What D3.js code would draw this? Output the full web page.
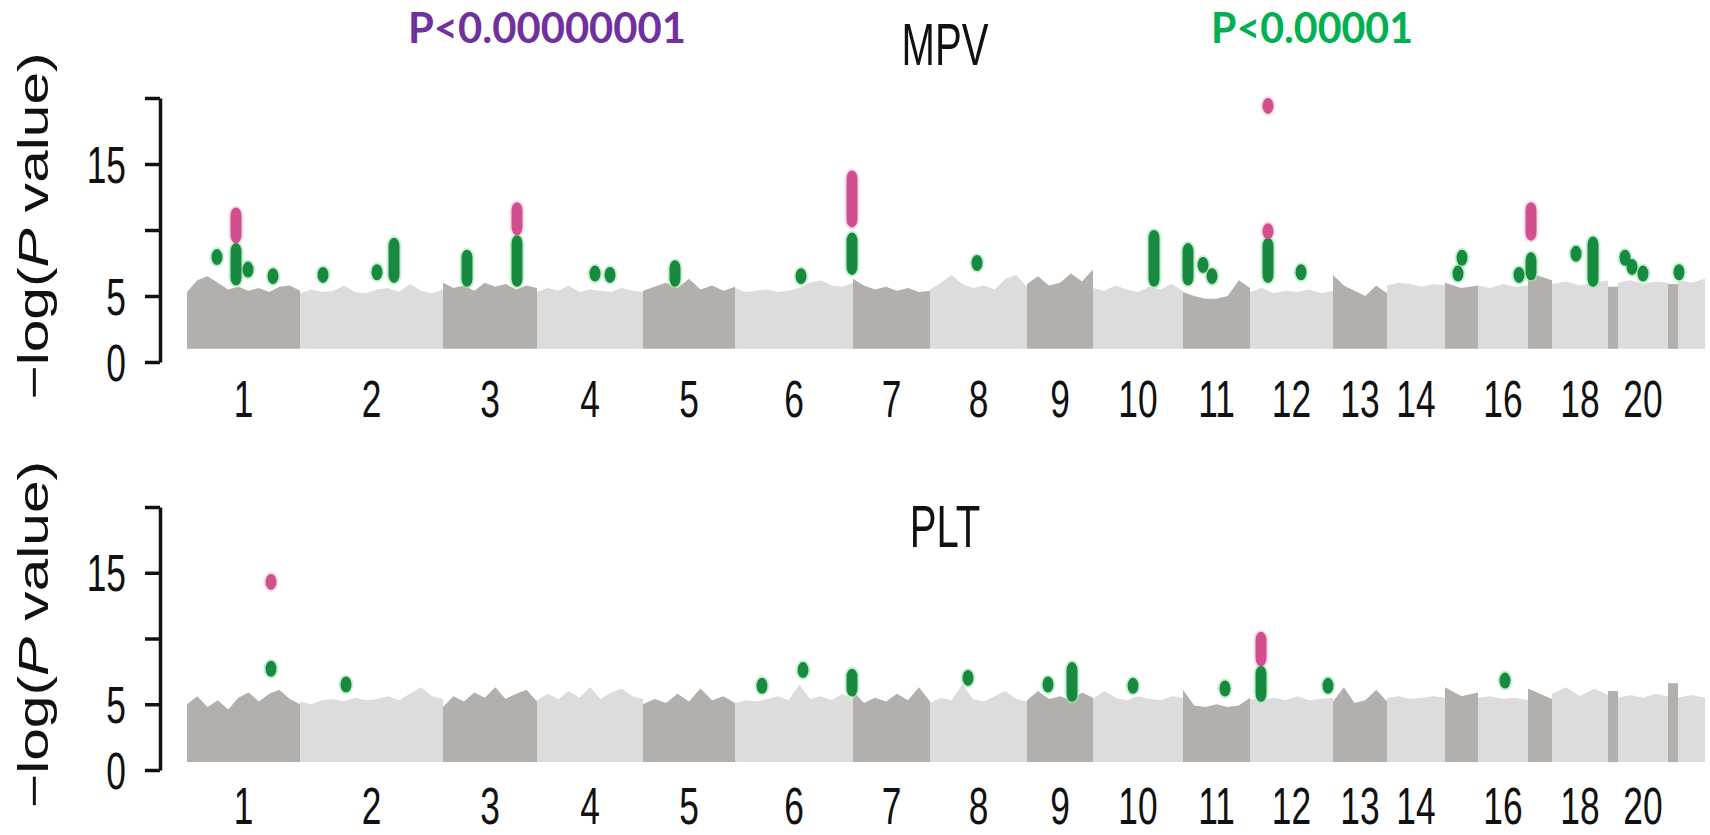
<!DOCTYPE html>
<html>
<head>
<meta charset="utf-8">
<script src="https://cdn.jsdelivr.net/npm/d3@7"></script>
<style>
  html, body { margin: 0; padding: 0; background: #fff; }
  svg { display: block; }
</style>
</head>
<body>
<div id="chart"></div>
<script>
// chromosomes and their relative widths along the x axis (as drawn in the figure)
const chromosomes = ['1', '2', '3', '4', '5', '6', '7', '8', '9', '10', '11', '12', '13', '14', '15', '16', '17', '18', '19', '20', '21', '22']
const chrSpan = [113, 143, 94, 106, 92, 118, 77, 97, 66, 90, 67, 83, 54, 58, 33, 50, 24, 56, 10, 50, 10, 27]
const chrTickLabels = ['1', '2', '3', '4', '5', '6', '7', '8', '9', '10', '11', '12', '13', '14', '', '16', '', '18', '', '20', '', '']

const yTicks = [0, 5, 10, 15, 20]
const yTickLabels = ['0', '5', '', '15', '']

// -log(P) envelope of the non-significant SNPs, per chromosome (left to right)
const mpvSkyline = [
  [5.3, 6.2, 6.5, 6.0, 5.5, 5.7, 5.4, 5.6, 5.3, 5.7, 5.8, 5.4],
  [5.2, 5.5, 5.3, 5.4, 5.8, 5.3, 5.2, 5.5, 5.6, 5.3, 5.9, 5.4, 5.2, 5.5],
  [6.0, 5.6, 5.8, 5.4, 6.0, 5.7, 5.9, 5.5, 5.8, 5.6],
  [5.3, 5.6, 5.4, 5.8, 5.3, 5.5, 5.4, 5.3, 5.6, 5.4, 5.3],
  [5.4, 5.7, 6.0, 5.6, 6.3, 5.5, 5.8, 5.4, 5.7],
  [5.6, 5.3, 5.4, 5.5, 5.3, 5.4, 5.6, 6.0, 6.2, 5.8, 5.7, 6.0],
  [6.3, 5.8, 5.5, 5.7, 5.4, 5.6, 5.3, 5.4],
  [5.5, 6.0, 6.6, 5.9, 5.6, 5.8, 5.5, 6.3, 6.6, 5.7],
  [5.9, 6.5, 5.8, 6.0, 6.7, 6.1, 7.0],
  [5.6, 5.4, 5.8, 5.5, 5.3, 5.7, 5.5, 5.9, 5.4],
  [5.3, 5.0, 4.8, 4.8, 5.0, 6.2, 5.6],
  [5.3, 5.6, 5.2, 5.4, 5.3, 5.5, 5.2, 5.4],
  [6.6, 5.8, 5.4, 5.0, 5.8, 5.2],
  [5.8, 6.0, 5.9, 5.7, 5.9, 5.8],
  [6.0, 5.6, 5.8],
  [5.8, 5.6, 5.9, 5.7, 5.8],
  [6.8, 6.2],
  [5.9, 6.1, 5.8, 6.0, 6.2],
  [5.7],
  [6.0, 6.2, 5.9, 6.1, 6.0],
  [5.9],
  [6.2, 6.0, 6.3]
]

const pltSkyline = [
  [5.0, 5.6, 4.8, 5.3, 4.6, 5.5, 5.9, 5.2, 5.8, 6.1, 5.4, 5.0],
  [5.2, 5.0, 5.3, 5.4, 5.2, 5.5, 5.3, 5.4, 5.6, 5.3, 5.8, 6.3, 5.6, 5.4],
  [4.8, 5.6, 5.2, 5.9, 5.5, 6.3, 5.4, 5.8, 6.1, 5.2],
  [5.3, 5.8, 5.4, 6.0, 5.5, 6.3, 5.4, 5.9, 6.2, 5.6, 5.4],
  [5.0, 5.4, 5.1, 5.8, 5.2, 6.2, 5.3, 5.6, 5.1],
  [5.1, 5.3, 5.2, 5.4, 5.6, 5.3, 6.5, 5.4, 5.6, 5.3, 5.8, 5.4],
  [6.0, 5.1, 5.5, 5.2, 5.8, 5.3, 6.3, 5.2],
  [5.1, 5.5, 5.3, 6.5, 5.4, 5.2, 5.6, 6.0, 5.4, 5.2],
  [5.3, 6.0, 5.4, 5.6, 5.3, 5.9, 5.5],
  [5.4, 6.0, 5.5, 5.3, 5.6, 5.4, 5.3, 5.6, 5.5],
  [6.1, 4.9, 4.8, 5.0, 4.8, 4.9, 5.5],
  [5.4, 5.3, 5.5, 5.3, 5.6, 5.3, 5.4, 5.5],
  [5.2, 6.3, 5.1, 5.3, 6.1, 5.2],
  [5.5, 5.6, 5.4, 5.5, 5.6, 5.5],
  [6.3, 5.6, 5.9],
  [5.5, 5.6, 5.4, 5.5, 5.3],
  [6.2, 5.4],
  [5.8, 6.3, 5.6, 6.2, 5.7],
  [6.0],
  [5.5, 5.7, 5.5, 5.8, 5.6],
  [6.6],
  [5.5, 5.7, 5.5]
]

// significant loci: [chromosome, position in chromosome, lowest -log(P), highest -log(P), class]
const mpvHits = [
  ['1', 30, 7.95, 7.95, 'suggestive'],
  ['1', 49, 6.4, 8.4, 'suggestive'],
  ['1', 49, 9.6, 11.1, 'genomewide'],
  ['1', 61, 7.0, 7.0, 'suggestive'],
  ['1', 86, 6.5, 6.5, 'suggestive'],
  ['2', 23, 6.6, 6.6, 'suggestive'],
  ['2', 77, 6.8, 6.8, 'suggestive'],
  ['2', 94, 6.6, 8.8, 'suggestive'],
  ['3', 24, 6.3, 7.9, 'suggestive'],
  ['3', 74, 6.3, 9.0, 'suggestive'],
  ['3', 74, 10.2, 11.5, 'genomewide'],
  ['4', 58, 6.7, 6.7, 'suggestive'],
  ['4', 73, 6.6, 6.6, 'suggestive'],
  ['5', 32, 6.3, 7.1, 'suggestive'],
  ['6', 66, 6.5, 6.5, 'suggestive'],
  ['6', 117, 7.2, 9.2, 'suggestive'],
  ['6', 117, 10.8, 13.9, 'genomewide'],
  ['8', 47, 7.5, 7.5, 'suggestive'],
  ['10', 61, 6.3, 9.4, 'suggestive'],
  ['11', 5, 6.4, 8.4, 'suggestive'],
  ['11', 20, 7.35, 7.35, 'suggestive'],
  ['11', 29, 6.5, 6.5, 'suggestive'],
  ['12', 18, 6.6, 8.8, 'suggestive'],
  ['12', 18, 9.9, 9.9, 'genomewide'],
  ['12', 18, 19.4, 19.4, 'genomewide'],
  ['12', 51, 6.8, 6.8, 'suggestive'],
  ['15', 13, 6.7, 6.7, 'suggestive'],
  ['15', 17, 7.9, 7.9, 'suggestive'],
  ['16', 41, 6.6, 6.6, 'suggestive'],
  ['17', 3, 6.8, 7.7, 'suggestive'],
  ['17', 3, 9.8, 11.5, 'genomewide'],
  ['18', 24, 8.2, 8.2, 'suggestive'],
  ['18', 41, 6.3, 8.9, 'suggestive'],
  ['20', 7, 7.9, 7.9, 'suggestive'],
  ['20', 14, 7.2, 7.2, 'suggestive'],
  ['20', 25, 6.7, 6.7, 'suggestive'],
  ['22', 1, 6.8, 6.8, 'suggestive']
]

const pltHits = [
  ['1', 84, 14.3, 14.3, 'genomewide'],
  ['1', 84, 7.7, 7.7, 'suggestive'],
  ['2', 46, 6.5, 6.5, 'suggestive'],
  ['6', 27, 6.4, 6.4, 'suggestive'],
  ['6', 68, 7.6, 7.6, 'suggestive'],
  ['6', 117, 6.2, 7.1, 'suggestive'],
  ['8', 38, 7.0, 7.0, 'suggestive'],
  ['9', 21, 6.5, 6.5, 'suggestive'],
  ['9', 45, 5.8, 7.6, 'suggestive'],
  ['10', 40, 6.4, 6.4, 'suggestive'],
  ['11', 42, 6.2, 6.2, 'suggestive'],
  ['12', 11, 5.8, 7.3, 'suggestive'],
  ['12', 11, 8.5, 9.9, 'genomewide'],
  ['12', 78, 6.4, 6.4, 'suggestive'],
  ['16', 27, 6.8, 6.8, 'suggestive']
]

const draw = (id) => {
  const W = 1710
  const H = 835
  const svg = d3.select(id)
    .append('svg')
    .attr('width', W)
    .attr('height', H)
    .attr('viewBox', `0 0 ${W} ${H}`)

  const font = '"Liberation Sans", Arial, Helvetica, sans-serif'
  const squeeze = 0.68
  const colors = {
    dark: '#b3afac',
    light: '#dcdcdc',
    suggestive: '#178a40',
    genomewide: '#d24f8e',
    suggestiveHalo: '#9fe6b2',
    genomewideHalo: '#f3c3da'
  }

  // cumulative chromosome starts
  const chrStart = {}
  let acc = 0
  chromosomes.forEach((c, i) => {
    chrStart[c] = acc
    acc += chrSpan[i]
  })
  const x = d3.scaleLinear().domain([0, acc]).range([187, 1705])

  const panels = [
    { title: 'MPV', top: 98, bottom: 362, base: 1.0, labelY: 417, titleY: 65, sky: mpvSkyline, hits: mpvHits },
    { title: 'PLT', top: 507, bottom: 770, base: 0.6, labelY: 824, titleY: 547, sky: pltSkyline, hits: pltHits }
  ]

  panels.forEach((p) => {
    const y = d3.scaleLinear().domain([0, 20]).range([p.bottom, p.top])
    const g = svg.append('g')

    // chromosome envelopes
    const area = d3.area()
      .x((d) => x(d[0]))
      .y0(y(p.base))
      .y1((d) => y(d[1]))

    chromosomes.forEach((c, i) => {
      const vals = p.sky[i].length === 1 ? [p.sky[i][0], p.sky[i][0]] : p.sky[i]
      const x0 = chrStart[c]
      const step = chrSpan[i] / (vals.length - 1)
      const pts = vals.map((v, j) => [x0 + j * step, v])
      g.append('path')
        .datum(pts)
        .attr('d', area)
        .attr('fill', i % 2 === 0 ? colors.dark : colors.light)
    })

    // hits: halo then fill
    const rx = 5.5
    const ry = 8
    const hitG = g.append('g')
    const pos = (d) => x(chrStart[d[0]] + d[1])
    hitG.selectAll('.halo')
      .data(p.hits)
      .enter()
      .append('rect')
      .attr('class', 'halo')
      .attr('x', (d) => pos(d) - rx - 2)
      .attr('y', (d) => y(d[3]) - ry - 2)
      .attr('width', 2 * rx + 4)
      .attr('height', (d) => y(d[2]) - y(d[3]) + 2 * ry + 4)
      .attr('rx', rx + 2)
      .attr('ry', ry + 2)
      .attr('fill', (d) => colors[d[4] + 'Halo'])
      .attr('opacity', 0.55)
    hitG.selectAll('.hit')
      .data(p.hits)
      .enter()
      .append('rect')
      .attr('class', 'hit')
      .attr('x', (d) => pos(d) - rx)
      .attr('y', (d) => y(d[3]) - ry)
      .attr('width', 2 * rx)
      .attr('height', (d) => y(d[2]) - y(d[3]) + 2 * ry)
      .attr('rx', rx)
      .attr('ry', ry)
      .attr('fill', (d) => colors[d[4]])

    // y axis
    const yAxis = svg.append('g')
      .attr('transform', 'translate(160,0)')
      .call(d3.axisLeft(y).tickValues(yTicks).tickSize(15).tickSizeOuter(0).tickFormat(''))
    yAxis.select('.domain').attr('stroke', '#111').attr('stroke-width', 3.5)
    yAxis.selectAll('.tick line').attr('stroke', '#111').attr('stroke-width', 3.5)

    yTicks.forEach((t, i) => {
      if (!yTickLabels[i]) return
      svg.append('text')
        .attr('transform', `translate(126,${y(t) + 18.5}) scale(${squeeze},1)`)
        .attr('text-anchor', 'end')
        .attr('font-family', font)
        .attr('font-size', 52)
        .attr('fill', '#111')
        .text(yTickLabels[i])
    })

    // y title
    const cy = (p.top + p.bottom) / 2 - 4
    const yt = svg.append('text')
      .attr('transform', `translate(48,${cy}) rotate(-90) scale(1,0.72)`)
      .attr('text-anchor', 'middle')
      .attr('font-family', font)
      .attr('font-size', 58)
      .attr('fill', '#111')
      .attr('textLength', 347)
      .attr('lengthAdjust', 'spacingAndGlyphs')
    yt.append('tspan').text('\u2212log(')
    yt.append('tspan').attr('font-style', 'italic').text('P')
    yt.append('tspan').text(' value)')

    // chromosome labels
    chromosomes.forEach((c, i) => {
      if (!chrTickLabels[i]) return
      svg.append('text')
        .attr('transform', `translate(${x(chrStart[c] + chrSpan[i] / 2)},${p.labelY}) scale(${squeeze},1)`)
        .attr('text-anchor', 'middle')
        .attr('font-family', font)
        .attr('font-size', 52)
        .attr('fill', '#111')
        .text(chrTickLabels[i])
    })

    // panel title
    svg.append('text')
      .attr('transform', `translate(945,${p.titleY}) scale(${squeeze},1)`)
      .attr('text-anchor', 'middle')
      .attr('font-family', font)
      .attr('font-size', 59)
      .attr('fill', '#111')
      .text(p.title)
  })

  // threshold annotations
  svg.append('text')
    .attr('x', 408)
    .attr('y', 43)
    .attr('font-family', 'Lato, "Open Sans", sans-serif')
    .attr('font-weight', 700)
    .attr('font-size', 42)
    .attr('fill', '#7030a0')
    .attr('textLength', 278)
    .attr('lengthAdjust', 'spacingAndGlyphs')
    .text('P<0.00000001')

  svg.append('text')
    .attr('x', 1211)
    .attr('y', 43)
    .attr('font-family', 'Lato, "Open Sans", sans-serif')
    .attr('font-weight', 700)
    .attr('font-size', 42)
    .attr('fill', '#00b050')
    .attr('textLength', 202)
    .attr('lengthAdjust', 'spacingAndGlyphs')
    .text('P<0.00001')
}

draw('#chart')
</script>
</body>
</html>
